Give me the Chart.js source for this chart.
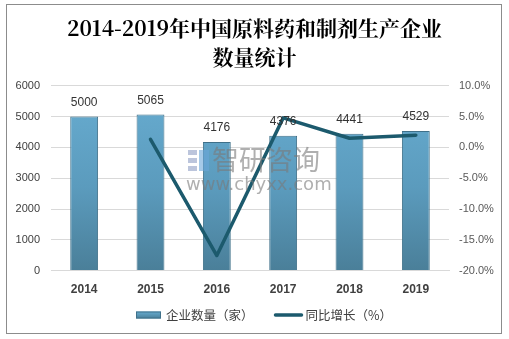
<!DOCTYPE html>
<html>
<head>
<meta charset="utf-8">
<script src="https://cdn.jsdelivr.net/npm/chart.js@4/dist/chart.umd.min.js"></script>
<style>
  html, body { margin: 0; padding: 0; background: #ffffff; }
  #wrap { position: relative; width: 509px; height: 339px; }
  #frame { position: absolute; left: 6px; top: 4px; width: 494px; height: 328px; border: 1px solid #8c8c8c; pointer-events: none; }
</style>
</head>
<body>
<div id="wrap">
  <canvas id="c" width="509" height="339"></canvas>
  <div id="frame"></div>
</div>
<script>
// Years on the category axis
const years = ['2014', '2015', '2016', '2017', '2018', '2019'];
// Number of enterprises (家)
const enterprises = [5000, 5065, 4176, 4376, 4441, 4529];
// Year-on-year growth (%), no value for the first year
const growth = [null, 1.30, -17.55, 4.79, 1.49, 1.98];
// Chart title lines and series names
const titleLines = ['2014-2019年中国原料药和制剂生产企业', '数量统计'];
const seriesNames = ['企业数量（家）', '同比增长（%）'];
// Watermark text
const markLines = ['智研咨询', 'www.chyxx.com'];

const cjk = "'Noto Sans CJK SC', 'Liberation Sans', sans-serif";
const lineColor = '#1c5a6d';

// Blue vertical gradient for the bars
function barFill(ctx) {
  const chart = ctx.chart;
  const area = chart.chartArea;
  if (!area) return '#5fa3c6';
  const g = chart.ctx.createLinearGradient(0, area.top, 0, area.bottom);
  g.addColorStop(0, '#68add1');
  g.addColorStop(0.55, '#5b9bbd');
  g.addColorStop(1, '#4a7f99');
  return g;
}

// Values printed above each bar
const barValues = {
  id: 'barValues',
  afterDatasetsDraw(chart) {
    const meta = chart.getDatasetMeta(0);
    const ctx = chart.ctx;
    ctx.save();
    ctx.font = "12px 'Liberation Sans', sans-serif";
    ctx.fillStyle = '#333333';
    ctx.textAlign = 'center';
    ctx.textBaseline = 'bottom';
    meta.data.forEach((bar, i) => {
      ctx.fillText(String(enterprises[i]), bar.x, bar.y - 8);
    });
    ctx.restore();
  }
};

// Faint site watermark across the middle of the plot
const watermark = {
  id: 'watermark',
  afterDraw(chart) {
    const ctx = chart.ctx;
    ctx.save();
    ctx.globalAlpha = 0.6;
    ctx.fillStyle = '#8f9fc4';
    ctx.fillRect(188, 150, 9, 5);
    ctx.fillRect(188, 158, 9, 5);
    ctx.fillRect(188, 166, 9, 5);
    ctx.fillStyle = '#6aa6d8';
    ctx.fillRect(199, 150, 10, 21);
    ctx.fillStyle = '#7a7a7a';
    ctx.textAlign = 'left';
    ctx.textBaseline = 'middle';
    ctx.font = "27px 'Noto Sans CJK SC', sans-serif";
    ctx.fillText(markLines[0], 212, 160);
    ctx.font = "18px 'DejaVu Sans', sans-serif";
    ctx.fillText(markLines[1], 186, 185);
    ctx.restore();
  }
};

// Legend row under the axis: bar swatch and line swatch with the series names
const legendRow = {
  id: 'legendRow',
  afterDraw(chart) {
    const ctx = chart.ctx;
    const y = 315;
    ctx.save();
    ctx.font = "12.5px " + cjk;
    ctx.textBaseline = 'middle';
    ctx.textAlign = 'left';
    // bar swatch
    const sx = 136;
    const g = ctx.createLinearGradient(0, y - 3.5, 0, y + 3.5);
    g.addColorStop(0, '#68add1');
    g.addColorStop(1, '#4a7f99');
    ctx.fillStyle = g;
    ctx.fillRect(sx, y - 3.5, 25, 7);
    ctx.strokeStyle = '#3f7089';
    ctx.lineWidth = 1;
    ctx.strokeRect(sx + 0.5, y - 3, 24, 6);
    ctx.fillStyle = '#404040';
    const t1 = chart.data.datasets[0].label;
    ctx.fillText(t1, sx + 30, y);
    // line swatch
    const lx = sx + 30 + ctx.measureText(t1).width + 22;
    ctx.strokeStyle = lineColor;
    ctx.lineWidth = 3.5;
    ctx.lineCap = 'round';
    ctx.beginPath();
    ctx.moveTo(lx, y);
    ctx.lineTo(lx + 26, y);
    ctx.stroke();
    ctx.fillText(chart.data.datasets[1].label, lx + 30, y);
    ctx.restore();
  }
};

new Chart(document.getElementById('c'), {
  data: {
    labels: years,
    datasets: [
      {
        type: 'bar',
        label: seriesNames[0],
        data: enterprises,
        yAxisID: 'y',
        backgroundColor: barFill,
        borderColor: '#3f7089',
        borderWidth: 1,
        categoryPercentage: 1,
        barPercentage: 0.42,
        order: 2
      },
      {
        type: 'line',
        label: seriesNames[1],
        data: growth,
        yAxisID: 'y1',
        borderColor: lineColor,
        backgroundColor: lineColor,
        borderWidth: 3.5,
        borderCapStyle: 'round',
        borderJoinStyle: 'round',
        pointRadius: 0,
        pointHoverRadius: 0,
        tension: 0,
        order: 1
      }
    ]
  },
  options: {
    responsive: false,
    animation: false,
    events: [],
    layout: { padding: { left: 0, right: 0, top: 0, bottom: 30 } },
    plugins: {
      title: {
        display: true,
        text: titleLines,
        color: '#000000',
        font: { size: 21, weight: 'bold', family: "'Noto Serif CJK SC', 'Liberation Serif', 'Noto Sans CJK SC', serif", lineHeight: 1.4 },
        padding: { top: 13, bottom: 14 }
      },
      legend: { display: false },
      tooltip: { enabled: false }
    },
    scales: {
      x: {
        grid: { display: false, drawTicks: false },
        border: { display: true, color: '#d9d9d9' },
        ticks: { color: '#404040', font: { size: 12, weight: 'bold', family: "'Liberation Sans', sans-serif" }, padding: 12 }
      },
      y: {
        position: 'left',
        min: 0,
        max: 6000,
        ticks: { stepSize: 1000, color: '#404040', font: { size: 11, family: "'Liberation Sans', sans-serif" }, padding: 11,
          callback: v => String(v) },
        grid: { color: '#d9d9d9', drawTicks: false },
        border: { display: false },
        afterFit(scale) { scale.width = 51; }
      },
      y1: {
        position: 'right',
        min: -20,
        max: 10,
        ticks: { stepSize: 5, color: '#595959', font: { size: 11, family: "'Liberation Sans', sans-serif" }, padding: 10,
          callback: v => v.toFixed(1) + '%' },
        grid: { display: false, drawTicks: false },
        border: { display: false },
        afterFit(scale) { scale.width = 60; }
      }
    }
  },
  plugins: [barValues, watermark, legendRow]
});
</script>
</body>
</html>
